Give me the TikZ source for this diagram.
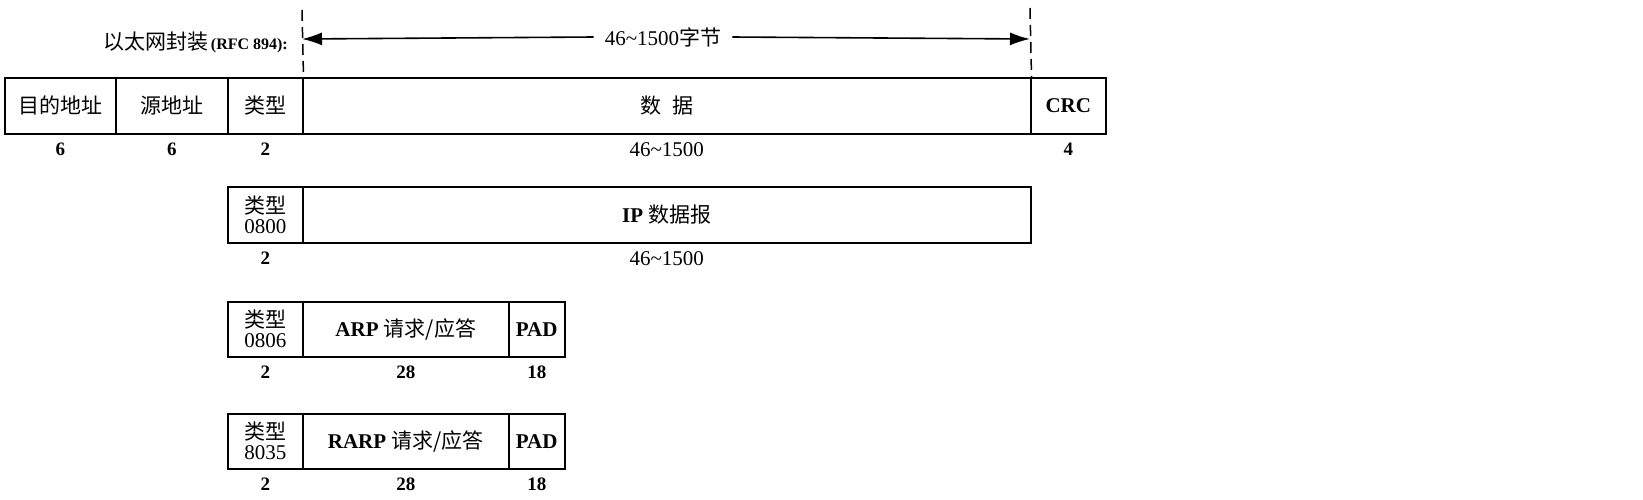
\documentclass[tikz,border=0pt]{standalone}
\usepackage{fontspec}
\setmainfont{Liberation Serif}
\newfontfamily\cjk{Noto Sans CJK SC}
\usetikzlibrary{arrows.meta}
\tikzset{
  cell/.style={draw, line width=1.5pt, inner sep=0pt, anchor=north west,
    font=\fontsize{21}{20}\selectfont, align=center},
  num/.style={inner sep=0pt, font=\bfseries\fontsize{19}{19}\selectfont},
  len/.style={inner sep=0pt, font=\fontsize{21}{21}\selectfont},
  guide/.style={line width=1.5pt, dash pattern=on 11pt off 6pt},
  dim/.style={line width=1.6pt, -{Latex[length=20pt,width=13pt]}}
}
\newcommand{\tl}{\textasciitilde}
\begin{document}
\begin{tikzpicture}[x=1pt,y=-1pt]
\useasboundingbox (0,0) rectangle (1643,499);
% row 1
\node[cell, minimum width=111pt, minimum height=56pt] (dst) at (4,77) {\cjk 目的地址};
\node[cell, minimum width=112pt, minimum height=56pt] (src) at (115,77) {\cjk 源地址};
\node[cell, minimum width=75pt, minimum height=56pt] (typ) at (227,77) {\cjk 类型};
\node[cell, minimum width=728pt, minimum height=56pt] (data) at (302,77) {\cjk 数\hspace{0.5em}据};
\node[cell, minimum width=75pt, minimum height=56pt] (crc) at (1030,77) {\bfseries CRC};
\node[num] (ndst) at ([yshift=-15pt]dst.south) {6};
\node[num] (nsrc) at ([yshift=-15pt]src.south) {6};
\node[num] (ntyp) at ([yshift=-15pt]typ.south) {2};
\node[len] (ndata) at ([yshift=-15pt]data.south) {46\tl1500};
\node[num] (ncrc) at ([yshift=-15pt]crc.south) {4};
% title and dimension
\node[inner sep=0pt, anchor=east] (title) at (288,42)
  {{\cjk\fontsize{21}{21}\selectfont 以太网封装} {\bfseries\fontsize{16}{16}\selectfont (RFC 894):}};
\coordinate (gl) at (302,10);
\coordinate (gr) at (1030,8);
\coordinate (al) at (302,39);
\coordinate (ar) at (1030,39);
\draw[guide] (gl) -- (typ.north east);
\draw[guide] (gr) -- (data.north east);
\node[len, inner xsep=11pt] (span) at (663,37) {46\tl1500{\cjk 字节}};
\draw[dim] (span.west) -- (al);
\draw[dim] (span.east) -- (ar);
% row 2
\node[cell, minimum width=75pt, minimum height=56pt] (t2) at (227,186) {{\cjk 类型}\\0800};
\node[cell, minimum width=728pt, minimum height=56pt] (ip) at (302,186) {{\bfseries IP} {\cjk 数据报}};
\node[num] (nt2) at ([yshift=-15pt]t2.south) {2};
\node[len] (nip) at ([yshift=-15pt]ip.south) {46\tl1500};
% row 3
\node[cell, minimum width=75pt, minimum height=55pt] (t3) at (227,301) {{\cjk 类型}\\0806};
\node[cell, minimum width=206pt, minimum height=55pt] (arp) at (302,301) {{\bfseries ARP} {\cjk 请求/应答}};
\node[cell, minimum width=56pt, minimum height=55pt] (pad3) at (508,301) {\bfseries PAD};
\node[num] (nt3) at ([yshift=-15pt]t3.south) {2};
\node[num] (narp) at ([yshift=-15pt]arp.south) {28};
\node[num] (npad3) at ([yshift=-15pt]pad3.south) {18};
% row 4
\node[cell, minimum width=75pt, minimum height=55pt] (t4) at (227,413) {{\cjk 类型}\\8035};
\node[cell, minimum width=206pt, minimum height=55pt] (rarp) at (302,413) {{\bfseries RARP} {\cjk 请求/应答}};
\node[cell, minimum width=56pt, minimum height=55pt] (pad4) at (508,413) {\bfseries PAD};
\node[num] (nt4) at ([yshift=-15pt]t4.south) {2};
\node[num] (nrarp) at ([yshift=-15pt]rarp.south) {28};
\node[num] (npad4) at ([yshift=-15pt]pad4.south) {18};
\end{tikzpicture}
\end{document}
